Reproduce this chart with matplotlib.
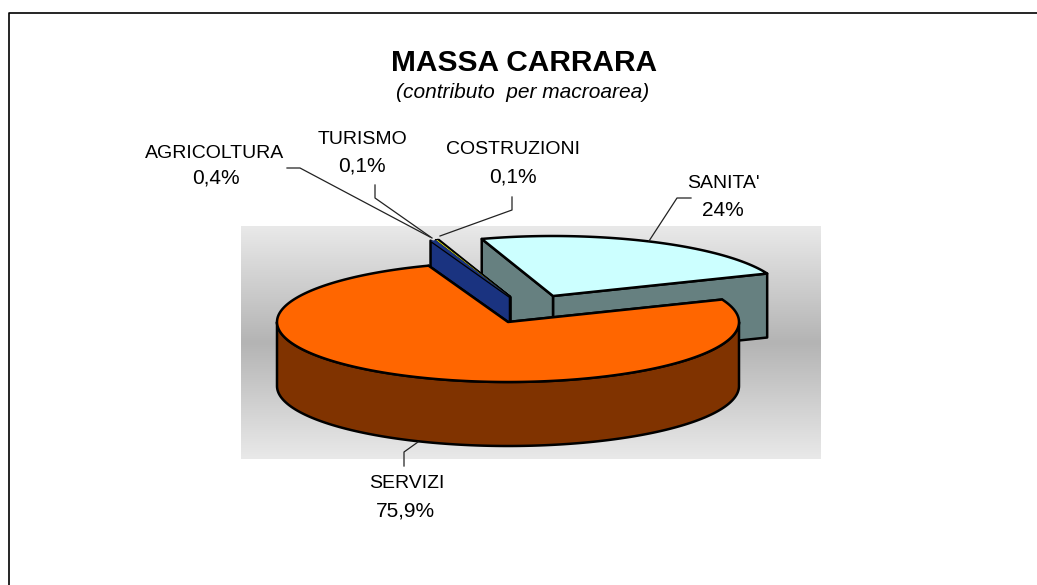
import numpy as np
import matplotlib
matplotlib.use("Agg")
import matplotlib.pyplot as plt
from matplotlib.colors import LinearSegmentedColormap

# data
categories = ["SANITA'", "COSTRUZIONI", "TURISMO", "AGRICOLTURA", "SERVIZI"]
values = [24, 0.1, 0.1, 0.4, 75.9]
value_labels = ["24%", "0,1%", "0,1%", "0,4%", "75,9%"]

# look
top_colors = ["#CCFFFF", "#000000", "#FFFF00", "#1A3380", "#FF6600"]
side_colors = ["#668080", "#000000", "#808000", "#1A3380", "#803300"]
start_angle = 22.0
center = (508, 322)
rx, ry = 231, 60
depth = 64
offsets = [(45, -26), (2, -25), (2, -25), (2, -25), (0, 0)]

plt.rcParams["font.family"] = "Liberation Sans"

fig = plt.figure(figsize=(10.37, 5.85), dpi=100, facecolor="white")
ax = fig.add_axes([0, 0, 1, 1])
ax.axis("off")

# outer chart frame, the right and bottom sides fall outside the picture
ax.plot([8.5, 8.5, 1037], [585, 13, 13], color="black", lw=1.2, zorder=1)

# plot area gradient
grey = LinearSegmentedColormap.from_list("wall", ["#E9E9E9", "#B4B4B4", "#E9E9E9"])
ax.imshow(np.linspace(0, 1, 256).reshape(-1, 1), cmap=grey, aspect="auto",
          extent=(241, 821, 459, 226), zorder=1)
ax.set_xlim(0, 1037)
ax.set_ylim(585, 0)


def rim(cx, cy, t1, t2):
    t = np.radians(np.linspace(t1, t2, max(int(abs(t2 - t1)), 2) + 1))
    return cx + rx * np.cos(t), cy - ry * np.sin(t)


def draw_slice(idx, t1, t2, z):
    cx = center[0] + offsets[idx][0]
    cy = center[1] + offsets[idx][1]
    edge = dict(edgecolor="black", linewidth=1.8, joinstyle="round")
    tiny = (t2 - t1) < 5

    # the straight cut faces, back one first
    for t in (t1, t2):
        ex, ey = rim(cx, cy, t, t)
        ax.fill([cx, ex[0], ex[0], cx], [cy, ey[0], ey[0] + depth, cy + depth],
                facecolor=side_colors[idx], zorder=z, **edge)

    # outer wall, only the part that looks towards the viewer
    for shift in (0, 360):
        a, b = max(t1, 180 + shift), min(t2, 360 + shift)
        if b > a:
            wx, wy = rim(cx, cy, a, b)
            ax.fill(np.r_[wx, wx[::-1]], np.r_[wy, wy[::-1] + depth],
                    facecolor=side_colors[idx], zorder=z, **edge)

    # top
    tx, ty = rim(cx, cy, t1, t2)
    if tiny:
        ax.fill(np.r_[cx, tx], np.r_[cy, ty], facecolor=top_colors[idx], edgecolor="none",
                zorder=z + 5)
    else:
        ax.fill(np.r_[cx, tx], np.r_[cy, ty], facecolor=top_colors[idx], zorder=z + 0.5, **edge)


# angles come from the shares
spans = np.array(values) / sum(values) * 360
edges = start_angle + np.r_[0, np.cumsum(spans)]
draw_slice(0, edges[0], edges[1], 3)
draw_slice(1, edges[1], edges[2], 4)
draw_slice(2, edges[2], edges[3], 4.2)
draw_slice(3, edges[3], edges[4], 4.4)
draw_slice(4, edges[4], edges[5], 11)

# leader lines
leaders = [
    ([691, 677, 649], [198, 198, 241]),
    ([512, 512, 440], [197, 210, 236]),
    ([375, 375, 432], [185, 198, 238]),
    ([287, 300, 430], [168, 168, 237]),
    ([418, 404, 404], [442, 452, 466]),
]
for xs, ys in leaders:
    ax.plot(xs, ys, color="#222222", lw=0.9, zorder=20)

# labels
name_pos = [(723, 183), (513, 149), (362, 139), (215, 153), (407, 484)]
value_pos = [(723, 210), (513, 177), (362, 166), (216, 178), (405, 511)]
for name, val, np_, vp in zip(categories, value_labels, name_pos, value_pos):
    ax.text(*np_, name, ha="center", va="center", fontsize=14, color="black", zorder=21)
    ax.text(*vp, val, ha="center", va="center", fontsize=15, color="black", zorder=21)

ax.text(524, 63, "MASSA CARRARA", ha="center", va="center", fontsize=21.5,
        fontweight="bold", color="black")
ax.text(523, 92, "(contributo  per macroarea)", ha="center", va="center", fontsize=15,
        fontstyle="italic", color="black")

fig.savefig("out.png", dpi=100)
